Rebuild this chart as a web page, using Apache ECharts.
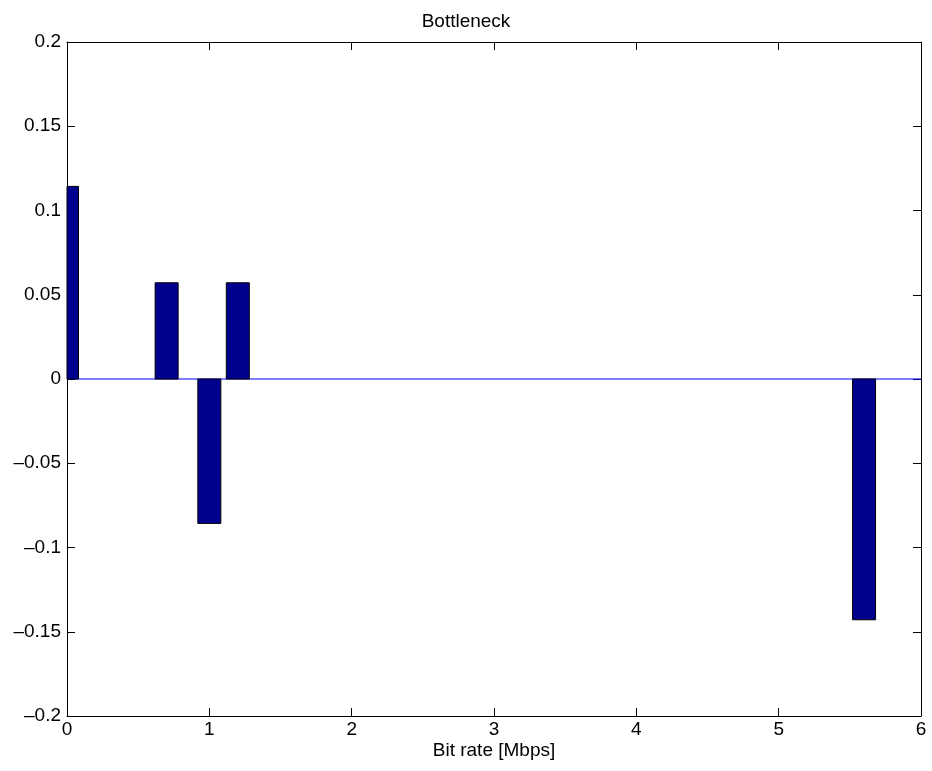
<!DOCTYPE html>
<html>
<head>
<meta charset="utf-8">
<script src="https://cdn.jsdelivr.net/npm/echarts@6/dist/echarts.min.js"></script>
<style>
  html, body { margin: 0; padding: 0; background: #fff; }
  #main { width: 932px; height: 771px; }
</style>
</head>
<body>
<div id="main"></div>
<script>
// data
var rates = [0, 0.7, 1.0, 1.2, 5.6];
var values = [0.1143, 0.0571, -0.0857, 0.0571, -0.1429];
var xMin = 0, xMax = 6, xStep = 1;
var yMin = -0.2, yMax = 0.2, yStep = 0.05;

var points = [];
for (var i = 0; i < rates.length; i++) {
    points.push([rates[i], values[i]]);
}

var font = 'Liberation Sans, Arial, Helvetica, sans-serif';
var barPx = 23;

function yLabel(v) {
    var s = String(parseFloat(v.toFixed(3)));
    return s.replace('-', '\u2013');
}

// bars drawn through the axes, clipped to the plot box like matlab does
function renderBar(params, api) {
    var top = api.coord([api.value(0), api.value(1)]);
    var base = api.coord([api.value(0), 0]);
    var rect = echarts.graphic.clipRectByRect({
        x: top[0] - barPx / 2,
        y: Math.min(top[1], base[1]),
        width: barPx,
        height: Math.abs(base[1] - top[1])
    }, {
        x: params.coordSys.x,
        y: params.coordSys.y,
        width: params.coordSys.width,
        height: params.coordSys.height
    });
    if (!rect) return;
    return {
        type: 'rect',
        shape: rect,
        style: { fill: '#00008f', stroke: '#000', lineWidth: 1 }
    };
}

var myChart = echarts.init(document.getElementById('main'));

var tick = { show: true, inside: true, length: 8, lineStyle: { color: '#000', width: 1 } };
var line = { show: true, onZero: false, lineStyle: { color: '#000', width: 1 } };

var option = {
    animation: false,
    backgroundColor: '#fff',
    title: {
        text: 'Bottleneck',
        left: 'center',
        top: 7,
        textStyle: { fontFamily: font, fontSize: 19, fontWeight: 'normal', color: '#000' }
    },
    grid: { left: 67, right: 11, top: 42, bottom: 55 },
    xAxis: [{
        type: 'value',
        min: xMin, max: xMax, interval: xStep,
        position: 'bottom',
        name: 'Bit rate [Mbps]',
        nameLocation: 'middle',
        nameGap: 25,
        nameMoveOverlap: false,
        nameTextStyle: { fontFamily: font, fontSize: 19, color: '#000' },
        axisLine: line,
        axisTick: tick,
        axisLabel: { fontFamily: font, fontSize: 19, color: '#000', margin: 4 },
        splitLine: { show: false }
    }, {
        type: 'value',
        min: xMin, max: xMax, interval: xStep,
        position: 'top',
        axisLine: line,
        axisTick: tick,
        axisLabel: { show: false },
        splitLine: { show: false }
    }],
    yAxis: [{
        type: 'value',
        min: yMin, max: yMax, interval: yStep,
        position: 'left',
        axisLine: line,
        axisTick: tick,
        axisLabel: { fontFamily: font, fontSize: 19, color: '#000', margin: 6, formatter: yLabel },
        splitLine: { show: false }
    }, {
        type: 'value',
        min: yMin, max: yMax, interval: yStep,
        position: 'right',
        axisLine: line,
        axisTick: tick,
        axisLabel: { show: false },
        splitLine: { show: false }
    }],
    series: [{
        type: 'line',
        data: [[xMin, 0], [xMax, 0]],
        symbol: 'none',
        silent: true,
        z: 1,
        lineStyle: { color: '#0000ff', width: 1.2 }
    }, {
        type: 'custom',
        data: points,
        renderItem: renderBar,
        encode: { x: 0, y: 1 },
        z: 2
    }]
};

myChart.setOption(option);
</script>
</body>
</html>
